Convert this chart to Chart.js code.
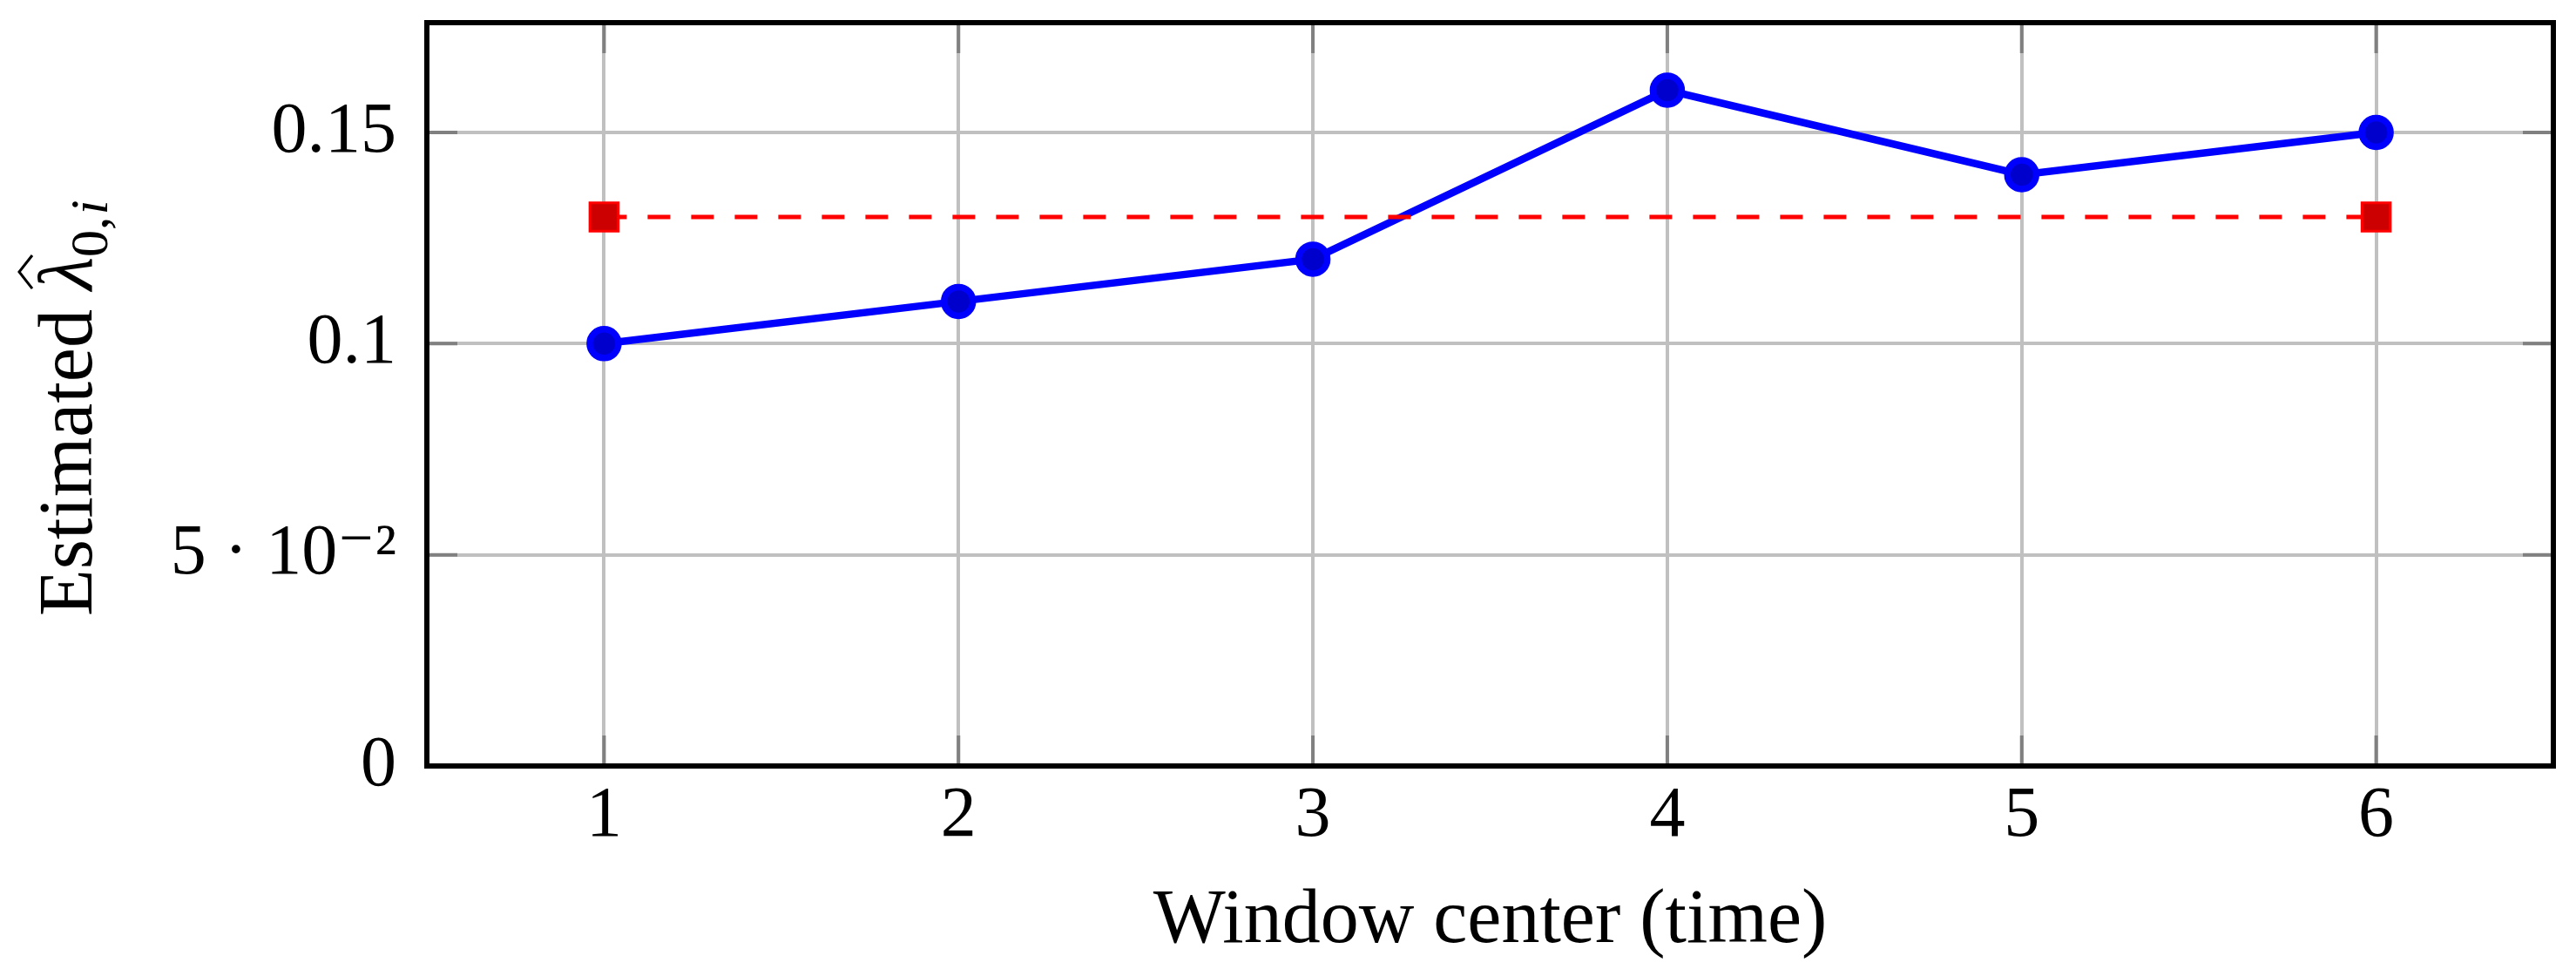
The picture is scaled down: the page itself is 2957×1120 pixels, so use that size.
<!DOCTYPE html>
<html>
<head>
<meta charset="utf-8">
<script src="https://cdn.jsdelivr.net/npm/chart.js@4.4.1/dist/chart.umd.min.js"></script>
<style>
html,body{margin:0;padding:0;background:#fff;}
#wrap{width:2957px;height:1120px;position:relative;}
canvas{display:block;}
</style>
</head>
<body>
<div id="wrap"><canvas id="c" width="2957" height="1120"></canvas></div>
<script>
// ---- data ----
const xValues = [1, 2, 3, 4, 5, 6];
const estimatedValues = [0.10, 0.11, 0.12, 0.16, 0.14, 0.15];
const referenceX = [1, 6];
const referenceValues = [0.13, 0.13];
const xTicks = [1, 2, 3, 4, 5, 6];
const xTickLabels = ['1', '2', '3', '4', '5', '6'];
const yTicks = [0, 0.05, 0.1, 0.15];
const yTickLabels = ['0', '5 \u00B7 10\u207B\u00B2', '0.1', '0.15'];
const xTitle = 'Window center (time)';
const yTitleMain = 'Estimated ';
const yTitleSymbol = '\u03BB';
const yTitleSub = '0,';
const yTitleSubItalic = 'i';

const FONT = '"Liberation Serif", "DejaVu Serif", serif';

const framePlugin = {
  id: 'frame',
  beforeDatasetsDraw(chart) {
    const {ctx, chartArea: a, scales: {x, y}} = chart;
    const L = 35;
    ctx.save();
    ctx.strokeStyle = '#808080';
    ctx.lineWidth = 4;
    ctx.beginPath();
    xTicks.forEach(v => {
      const px = x.getPixelForValue(v);
      ctx.moveTo(px, a.bottom); ctx.lineTo(px, a.bottom - L);
      ctx.moveTo(px, a.top); ctx.lineTo(px, a.top + L);
    });
    yTicks.forEach(v => {
      const py = y.getPixelForValue(v);
      ctx.moveTo(a.left, py); ctx.lineTo(a.left + L, py);
      ctx.moveTo(a.right, py); ctx.lineTo(a.right - L, py);
    });
    ctx.stroke();
    ctx.restore();
  },
  afterDatasetsDraw(chart) {
    const {ctx, chartArea: a} = chart;
    ctx.save();
    ctx.strokeStyle = '#000';
    ctx.lineWidth = 6;
    ctx.strokeRect(a.left, a.top, a.right - a.left, a.bottom - a.top);
    ctx.restore();
  },
  afterDraw(chart) {
    const {ctx} = chart;
    ctx.save();
    ctx.translate(105, 707);
    ctx.rotate(-Math.PI / 2);
    ctx.fillStyle = '#000';
    ctx.textAlign = 'left';
    ctx.textBaseline = 'alphabetic';
    ctx.font = '88px ' + FONT;
    ctx.fillText(yTitleMain, 0, 0);
    let u = ctx.measureText(yTitleMain).width;
    ctx.font = 'italic 88px ' + FONT;
    ctx.fillText(yTitleSymbol, u, 0);
    const lw = ctx.measureText(yTitleSymbol).width;
    // wide hat over lambda
    ctx.strokeStyle = '#000';
    ctx.lineWidth = 3;
    ctx.beginPath();
    ctx.moveTo(u + 2, -68);
    ctx.lineTo(u + lw / 2 + 2, -83);
    ctx.lineTo(u + lw + 2, -68);
    ctx.stroke();
    u += lw;
    ctx.font = '62px ' + FONT;
    ctx.fillText(yTitleSub, u, 18);
    u += ctx.measureText(yTitleSub).width;
    ctx.font = 'italic 62px ' + FONT;
    ctx.fillText(yTitleSubItalic, u + 2, 18);
    ctx.restore();
  }
};

new Chart(document.getElementById('c'), {
  type: 'line',
  data: {
    datasets: [
      {
        label: 'Reference',
        data: referenceX.map((x, i) => ({x: x, y: referenceValues[i]})),
        borderColor: '#ff0000',
        borderWidth: 5,
        borderDash: [26, 24],
        pointStyle: 'rect',
        pointRadius: 23,
        pointBackgroundColor: '#cc0000',
        pointBorderColor: '#ff0000',
        pointBorderWidth: 3,
        order: 0,
        clip: false
      },
      {
        label: 'Estimated',
        data: xValues.map((x, i) => ({x: x, y: estimatedValues[i]})),
        borderColor: '#0000ff',
        borderWidth: 8.5,
        pointStyle: 'circle',
        pointRadius: 16.5,
        pointBorderWidth: 7.5,
        pointBackgroundColor: '#0000cc',
        pointBorderColor: '#0000ff',
        order: 1,
        clip: false
      }
    ]
  },
  options: {
    responsive: false,
    animation: false,
    devicePixelRatio: 1,
    layout: {padding: {left: 0, right: 26, top: 24, bottom: 0}},
    plugins: {legend: {display: false}, tooltip: {enabled: false}},
    elements: {line: {tension: 0}},
    scales: {
      x: {
        type: 'linear',
        min: 0.5,
        max: 6.5,
        afterBuildTicks: s => { s.ticks = xTicks.map(v => ({value: v})); },
        afterFit: s => { s.height = 241; s.paddingLeft = 0; s.paddingRight = 0; },
        grid: {color: '#c0c0c0', lineWidth: 4, drawTicks: false},
        border: {display: false},
        ticks: {
          color: '#000',
          font: {family: FONT, size: 82},
          padding: 9,
          maxRotation: 0,
          callback: (v) => xTickLabels[xTicks.indexOf(v)]
        },
        title: {
          display: true,
          text: xTitle,
          color: '#000',
          font: {family: FONT, size: 88},
          padding: {top: 0, bottom: 9}
        }
      },
      y: {
        type: 'linear',
        min: 0,
        max: 0.176,
        afterBuildTicks: s => { s.ticks = yTicks.map(v => ({value: v})); },
        afterFit: s => { s.width = 490; s.paddingTop = 0; s.paddingBottom = 0; },
        grid: {color: '#c0c0c0', lineWidth: 4, drawTicks: false},
        border: {display: false},
        ticks: {
          color: '#000',
          font: {family: FONT, size: 82},
          padding: 35,
          callback: (v, i) => yTickLabels[i]
        }
      }
    }
  },
  plugins: [framePlugin]
});
</script>
</body>
</html>
